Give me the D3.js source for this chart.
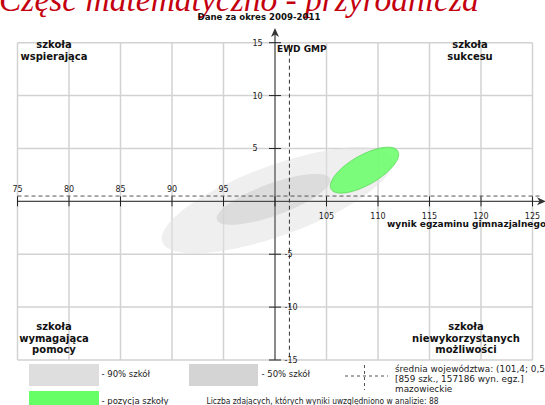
<!DOCTYPE html>
<html>
<head>
<meta charset="utf-8">
<script src="https://cdn.jsdelivr.net/npm/d3@7"></script>
<style>
  html, body { margin: 0; padding: 0; background: #fff; overflow: hidden; }
  svg { display: block; }
  text { font-family: "DejaVu Sans", sans-serif; }
</style>
</head>
<body>
<svg id="chart" width="545" height="405"></svg>
<script>
// ---- data ----
const titleText = "Część matematyczno - przyrodnicza";
const subtitleText = "Dane za okres 2009-2011";
const xTicks = [75, 80, 85, 90, 95, 100, 105, 110, 115, 120, 125];
const yTicks = [-15, -10, -5, 0, 5, 10, 15];
const xDomain = [75, 125];
const yDomain = [-15, 15];
const ellipseNames = ["90% szkół", "50% szkół", "pozycja szkoły"];
const ellipseCenterX = [100.2, 99.85, 108.69];
const ellipseCenterY = [0.1, 0.19, 2.95];
const ellipseMajorAxis = [[11.13, 3.94], [5.48, 1.94], [3.24, 1.80]];
const ellipseMinorAxis = [[1.16, -3.11], [0.53, -1.42], [0.72, -1.22]];
const meanX = 101.4;
const meanY = 0.5;
const meanLines = ["średnia województwa: (101,4; 0,5)", "[859 szk., 157186 wyn. egz.]", "mazowieckie"];
const quadrantTopLeft = ["szkoła", "wspierająca"];
const quadrantTopRight = ["szkoła", "sukcesu"];
const quadrantBottomLeft = ["szkoła", "wymagająca", "pomocy"];
const quadrantBottomRight = ["szkoła", "niewykorzystanych", "możliwości"];
const countText = "Liczba zdających, których wyniki uwzględniono w analizie: 88";

// ---- drawing ----
const svg = d3.select("#chart");
const x = d3.scaleLinear().domain(xDomain).range([17.5, 532.5]);
const y = d3.scaleLinear().domain(yDomain).range([360, 42.7]);

// title
svg.append("text").attr("x", -1).attr("y", 10.5)
  .style("font-family", "'Liberation Serif', serif").style("font-style", "italic")
  .style("font-size", "33.5px").attr("fill", "#c4000f").text(titleText);
svg.append("text").attr("x", 259).attr("y", 20).attr("text-anchor", "middle")
  .style("font-size", "8.6px").style("font-weight", "bold").attr("fill", "#111").text(subtitleText);

// grid
const grid = svg.append("g");
grid.selectAll("line.v").data(xTicks).join("line")
  .attr("x1", d => x(d)).attr("x2", d => x(d)).attr("y1", y(15)).attr("y2", y(-15))
  .attr("stroke", "#d2d2d2").attr("stroke-width", 1.5);
grid.selectAll("line.h").data(yTicks).join("line")
  .attr("y1", d => y(d)).attr("y2", d => y(d)).attr("x1", x(75)).attr("x2", x(125))
  .attr("stroke", "#d2d2d2").attr("stroke-width", 1.5);

// ellipses
const fills = ["#e2e2e2", "#cfcfcf", "#66ff66"];
const opac = [0.55, 0.6, 0.85];
const strokes = ["none", "none", "#44cc44"];
const line = d3.line().curve(d3.curveLinearClosed);
ellipseNames.forEach((name, i) => {
  const pts = d3.range(0, 120).map(k => {
    const t = k / 120 * 2 * Math.PI;
    const dx = ellipseCenterX[i] + Math.cos(t) * ellipseMajorAxis[i][0] + Math.sin(t) * ellipseMinorAxis[i][0];
    const dy = ellipseCenterY[i] + Math.cos(t) * ellipseMajorAxis[i][1] + Math.sin(t) * ellipseMinorAxis[i][1];
    return [x(dx), y(dy)];
  });
  svg.append("path").attr("d", line(pts)).attr("fill", fills[i]).attr("fill-opacity", opac[i])
    .attr("stroke", strokes[i]).attr("stroke-width", 0.6);
});

// y axis
svg.append("line").attr("x1", x(100)).attr("x2", x(100)).attr("y1", y(-15)).attr("y2", 33)
  .attr("stroke", "#8a8a8a").attr("stroke-width", 2);
svg.append("path").attr("d", `M${x(100)},28 L${x(100)-4},37 L${x(100)},34.5 L${x(100)+4},37 Z`).attr("fill", "#333");
// x axis
svg.append("line").attr("x1", x(75)).attr("x2", 541).attr("y1", y(0)).attr("y2", y(0))
  .attr("stroke", "#333").attr("stroke-width", 1);
svg.append("path").attr("d", `M546,${y(0)} L537,${y(0)-4} L539.5,${y(0)} L537,${y(0)+4} Z`).attr("fill", "#333");

// mean dashed lines
svg.append("line").attr("x1", x(75)).attr("x2", 541).attr("y1", y(meanY)).attr("y2", y(meanY))
  .attr("stroke", "#555").attr("stroke-dasharray", "4,3");
svg.append("line").attr("x1", x(meanX)).attr("x2", x(meanX)).attr("y1", y(15) + 2).attr("y2", y(-15))
  .attr("stroke", "#333").attr("stroke-dasharray", "4,3");

// ticks
svg.selectAll("line.xt").data(xTicks).join("line")
  .attr("x1", d => x(d)).attr("x2", d => x(d)).attr("y1", y(0) - 5).attr("y2", y(0) + 5)
  .attr("stroke", "#222");
svg.selectAll("line.yt").data(yTicks.filter(d => d !== 0)).join("line")
  .attr("y1", d => y(d)).attr("y2", d => y(d)).attr("x1", x(100) - 6).attr("x2", x(100) + 6)
  .attr("stroke", "#222");

// tick labels
svg.selectAll("text.xl").data(xTicks.filter(d => d !== 100)).join("text")
  .attr("x", d => x(d)).attr("y", d => d < 100 ? y(0) - 9 : y(0) + 17.5)
  .attr("text-anchor", "middle").style("font-size", "8px").attr("fill", "#222").text(d => d);
svg.selectAll("text.yl").data(yTicks.filter(d => d !== 0)).join("text")
  .attr("x", d => d > 0 ? 252.5 : 284.5).attr("y", d => y(d) + 3)
  .style("font-size", "8px").attr("fill", "#222").text(d => d);

// axis labels
svg.append("text").attr("x", 277).attr("y", 52).style("font-size", "9px").style("font-weight", "bold")
  .attr("fill", "#111").text("EWD GMP");
svg.append("text").attr("x", 387).attr("y", 227).style("font-size", "9px").style("font-weight", "bold")
  .attr("fill", "#111").text("wynik egzaminu gimnazjalnego");

// quadrant labels
function quad(lines, cx, y0) {
  lines.forEach((t, i) => {
    svg.append("text").attr("x", cx).attr("y", y0 + i * 11.5).attr("text-anchor", "middle")
      .style("font-size", "10px").style("font-weight", "bold").attr("fill", "#111").text(t);
  });
}
quad(quadrantTopLeft, 54, 48);
quad(quadrantTopRight, 470, 48);
quad(quadrantBottomLeft, 54, 330);
quad(quadrantBottomRight, 466, 330);

// legend
const lg = svg.append("g");
lg.append("rect").attr("x", 29).attr("y", 364).attr("width", 70).attr("height", 22).attr("fill", "#dedede");
lg.append("text").attr("x", 101.5).attr("y", 377).style("font-size", "8.5px").attr("fill", "#222").text("- " + ellipseNames[0]);
lg.append("rect").attr("x", 189).attr("y", 364).attr("width", 69).attr("height", 22).attr("fill", "#d4d4d4");
lg.append("text").attr("x", 261.5).attr("y", 377).style("font-size", "8.5px").attr("fill", "#222").text("- " + ellipseNames[1]);
lg.append("rect").attr("x", 29).attr("y", 391).attr("width", 70).attr("height", 16).attr("fill", "#66ff66");
lg.append("text").attr("x", 101.5).attr("y", 403.5).style("font-size", "8.5px").attr("fill", "#222").text("- " + ellipseNames[2]);
lg.append("line").attr("x1", 345).attr("x2", 388).attr("y1", 376).attr("y2", 376)
  .attr("stroke", "#555").attr("stroke-dasharray", "3,3");
lg.append("line").attr("x1", 364.5).attr("x2", 364.5).attr("y1", 365).attr("y2", 390)
  .attr("stroke", "#555").attr("stroke-dasharray", "3,3");
meanLines.forEach((t, i) => {
  lg.append("text").attr("x", 395).attr("y", 372 + i * 9.8).style("font-size", "8.9px").attr("fill", "#222").text(t);
});
lg.append("text").attr("x", 206.5).attr("y", 403.5).style("font-size", "8.6px").attr("fill", "#222")
  .attr("textLength", 232).attr("lengthAdjust", "spacingAndGlyphs").text(countText);
</script>
</body>
</html>
